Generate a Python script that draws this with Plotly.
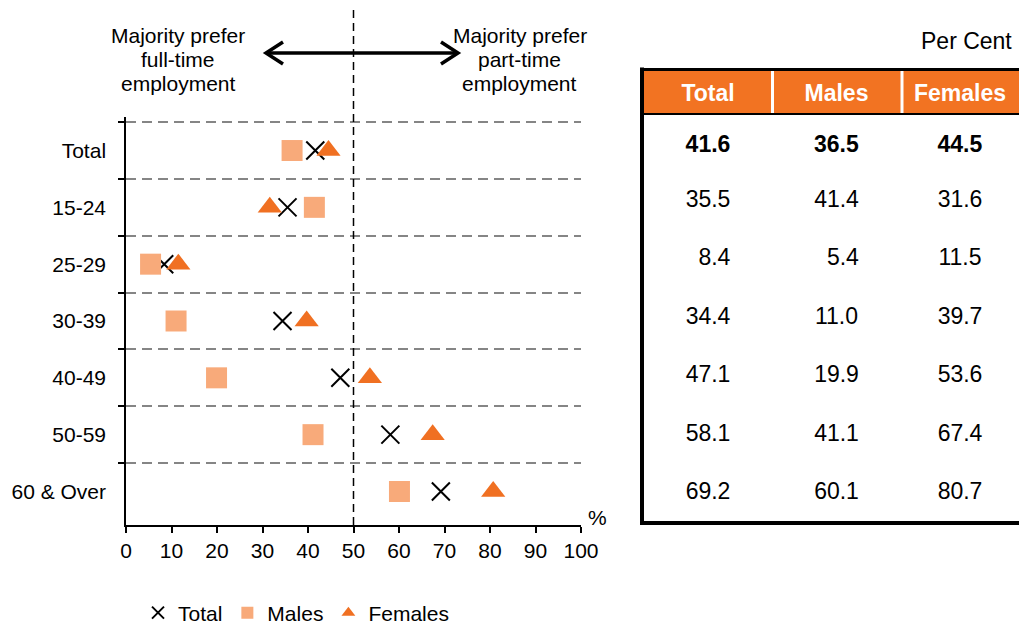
import plotly.graph_objects as go

categories = ["Total", "15-24", "25-29", "30-39", "40-49", "50-59", "60 & Over"]
total = [41.6, 35.5, 8.4, 34.4, 47.1, 58.1, 69.2]
males = [36.5, 41.4, 5.4, 11.0, 19.9, 41.1, 60.1]
females = [44.5, 31.6, 11.5, 39.7, 53.6, 67.4, 80.7]
x_ticks = list(range(0, 101, 10))
table_header = ["Total", "Males", "Females"]

W, H = 1019, 625
FONT = "Liberation Sans, Arial, sans-serif"
SQ = "#F8AA7A"
TRI = "#F07022"
HDR = "#F27322"
GRID = "#858585"

X0, X1 = 126, 581      # pixel extent of x axis 0..100
Y0, Y1 = 117, 525      # pixel extent of plot area (top, bottom)
UPX = 100 / (X1 - X0)  # data units per pixel


def px(x):
    return x / W


def py(y):
    return 1 - y / H


fig = go.Figure()

fig.add_trace(go.Scatter(
    x=total, y=categories, mode="markers", name="Total",
    marker=dict(symbol="x-thin-open", size=18, color="black",
                line=dict(color="black", width=2)),
))
fig.add_trace(go.Scatter(
    x=males, y=categories, mode="markers", name="Males",
    marker=dict(symbol="square", size=21, color=SQ),
))
fig.add_trace(go.Scatter(
    x=females, y=categories, mode="markers", name="Females",
    marker=dict(symbol="triangle-up", size=21, color=TRI),
))


def fmt(v):
    s = f"{v:.1f}"
    return ("\u2007" + s) if v < 10 else s


def col(vals):
    return ["<b>" + fmt(vals[0]) + "</b>"] + [fmt(v) for v in vals[1:]]


TBL_TOP = 72
fig.add_trace(go.Table(
    domain=dict(x=[px(644), 1.0], y=[0.0, py(TBL_TOP)]),
    columnwidth=[128, 129, 118],
    header=dict(
        values=["<b>" + h + "</b>" for h in table_header],
        fill_color="rgba(0,0,0,0)", line=dict(color="rgba(0,0,0,0)", width=0),
        font=dict(family=FONT, size=23, color="white"),
        align="center", height=51,
    ),
    cells=dict(
        values=[col(total), col(males), col(females)],
        fill_color="rgba(0,0,0,0)", line=dict(color="rgba(0,0,0,0)", width=0),
        font=dict(family=FONT, size=23, color="black"),
        align="center", height=58.5,
    ),
))

fig.update_layout(
    width=W, height=H,
    margin=dict(l=0, r=0, t=0, b=0, autoexpand=False),
    paper_bgcolor="white", plot_bgcolor="white",
    font=dict(family=FONT, size=21, color="black"),
    showlegend=True,
    legend=dict(orientation="h", x=px(138), xanchor="left", y=py(613), yanchor="middle",
                font=dict(family=FONT, size=21), itemsizing="constant",
                bgcolor="rgba(0,0,0,0)", borderwidth=0),
    xaxis=dict(
        domain=[px(X0), px(X1)], range=[0, 100], tickvals=x_ticks,
        showline=True, linecolor="black", linewidth=1.5,
        ticks="outside", ticklen=6, tickcolor="black", tickwidth=1.5,
        showgrid=False, zeroline=False, automargin=False,
        tickfont=dict(size=21),
    ),
    yaxis=dict(
        domain=[py(Y1), py(Y0)], type="category", categoryorder="array",
        categoryarray=categories, autorange="reversed",
        tickson="boundaries", ticks="outside", ticklen=6, tickcolor="black", tickwidth=1.5,
        showline=True, linecolor="black", linewidth=1.5,
        showgrid=True, gridcolor=GRID, gridwidth=1.5, griddash="10px,6px",
        zeroline=False, automargin=False, ticklabelstandoff=14,
        tickfont=dict(size=21),
    ),
)

shapes = []
# table header band and separators (drawn under the table text)
shapes.append(dict(type="rect", xref="paper", yref="paper", layer="below",
                   x0=px(644), x1=1.0, y0=py(113), y1=py(71),
                   fillcolor=HDR, line=dict(width=0)))
for sx in (772.5, 902):
    shapes.append(dict(type="line", xref="paper", yref="paper",
                       x0=px(sx), x1=px(sx), y0=py(113), y1=py(71),
                       line=dict(color="white", width=3)))
# table borders
shapes.append(dict(type="line", xref="paper", yref="paper", x0=px(642), x1=px(642),
                   y0=py(525), y1=py(67.5), line=dict(color="black", width=4)))
shapes.append(dict(type="line", xref="paper", yref="paper", x0=px(640), x1=1.0,
                   y0=py(69.5), y1=py(69.5), line=dict(color="black", width=3)))
shapes.append(dict(type="line", xref="paper", yref="paper", x0=px(640), x1=1.0,
                   y0=py(114), y1=py(114), line=dict(color="black", width=2)))
shapes.append(dict(type="line", xref="paper", yref="paper", x0=px(640), x1=1.0,
                   y0=py(523), y1=py(523), line=dict(color="black", width=4)))
# vertical 50% divider
shapes.append(dict(type="line", xref="x", yref="paper", x0=50, x1=50,
                   y0=py(Y1), y1=py(6), line=dict(color="black", width=1.5, dash="8px,5px")))
# double arrow
ay = py(53)
xl, xr = (266 - X0) * UPX, (458 - X0) * UPX
shapes.append(dict(type="line", xref="x", yref="paper", x0=xl, x1=xr, y0=ay, y1=ay,
                   line=dict(color="black", width=3.5)))
dx = 17 * UPX
dy = 11 / H
shapes.append(dict(type="path", xref="x", yref="paper",
                   path=f"M {xl+dx},{ay+dy} L {xl},{ay} L {xl+dx},{ay-dy}",
                   line=dict(color="black", width=3.5)))
shapes.append(dict(type="path", xref="x", yref="paper",
                   path=f"M {xr-dx},{ay+dy} L {xr},{ay} L {xr-dx},{ay-dy}",
                   line=dict(color="black", width=3.5)))
fig.update_layout(shapes=shapes)

annotations = []
left_lines = ["Majority prefer", "full-time", "employment"]
right_lines = ["Majority prefer", "part-time", "employment"]
for i, (lt, rt) in enumerate(zip(left_lines, right_lines)):
    yy = py(35 + 24 * i)
    annotations.append(dict(text=lt, xref="paper", yref="paper", x=px(178), y=yy,
                            xanchor="center", yanchor="middle", showarrow=False,
                            font=dict(size=21)))
    annotations.append(dict(text=rt, xref="paper", yref="paper", x=px(519.5), y=yy,
                            xanchor="center", yanchor="middle", showarrow=False,
                            font=dict(size=21)))
annotations.append(dict(text="%", xref="paper", yref="paper", x=px(597), y=py(517),
                        xanchor="center", yanchor="middle", showarrow=False,
                        font=dict(size=21)))
annotations.append(dict(text="Per Cent", xref="paper", yref="paper", x=px(1014), y=py(41),
                        xanchor="right", yanchor="middle", showarrow=False,
                        font=dict(size=23)))
fig.update_layout(annotations=annotations)

fig.write_html(
    "out.html",
    config={"displayModeBar": False},
    post_script="document.body.style.margin='0px';document.body.style.padding='0px';"
                "document.documentElement.style.overflow='hidden';",
)
